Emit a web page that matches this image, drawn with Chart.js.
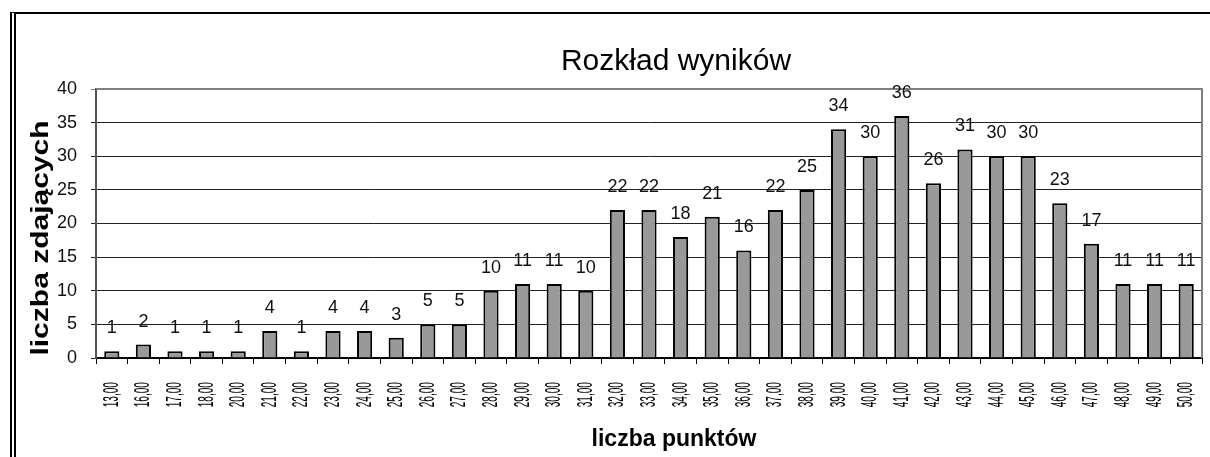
<!DOCTYPE html>
<html>
<head>
<meta charset="utf-8">
<script src="https://cdn.jsdelivr.net/npm/chart.js@4.4.0/dist/chart.umd.min.js"></script>
<style>
html, body { margin: 0; padding: 0; background: #fff; }
#wrap { position: relative; width: 1210px; height: 457px; overflow: hidden; }
#frame { position: absolute; left: 10px; top: 12px; width: 1300px; height: 600px;
         border-top: 2px solid #000; border-left: 6px double #000; pointer-events: none; }
</style>
</head>
<body>
<div id="wrap">
  <canvas id="chart" width="1210" height="457"></canvas>
  <div id="frame"></div>
</div>
<script>
var categories = ['13,00', '16,00', '17,00', '18,00', '20,00', '21,00', '22,00', '23,00', '24,00',
    '25,00', '26,00', '27,00', '28,00', '29,00', '30,00', '31,00', '32,00', '33,00', '34,00',
    '35,00', '36,00', '37,00', '38,00', '39,00', '40,00', '41,00', '42,00', '43,00', '44,00',
    '45,00', '46,00', '47,00', '48,00', '49,00', '50,00'];
var counts = [1, 2, 1, 1, 1, 4, 1, 4, 4, 3, 5, 5, 10, 11, 11, 10, 22, 22, 18, 21, 16, 22, 25,
    34, 30, 36, 26, 31, 30, 30, 23, 17, 11, 11, 11];
var yMin = 0, yMax = 40, yStep = 5;

var chartTitle = 'Rozkład wyników';
var xTitle = 'liczba punktów';
var yTitle = 'liczba zdających';

var arial = "'Liberation Sans', Arial, sans-serif";

var extras = {
    id: 'extras',
    beforeDatasetsDraw: function(chart) {
        // grey frame of the plot area (top + right)
        var a = chart.chartArea, ctx = chart.ctx;
        ctx.save();
        ctx.strokeStyle = '#808080';
        ctx.lineWidth = 2;
        ctx.beginPath();
        ctx.moveTo(a.left, a.top);
        ctx.lineTo(a.right, a.top);
        ctx.lineTo(a.right, a.bottom);
        ctx.stroke();
        ctx.restore();
    },
    afterDatasetsDraw: function(chart) {
        // value labels above the bars
        var ctx = chart.ctx;
        var meta = chart.getDatasetMeta(0);
        ctx.save();
        ctx.font = '18px ' + arial;
        ctx.fillStyle = '#111';
        ctx.textAlign = 'center';
        ctx.textBaseline = 'bottom';
        meta.data.forEach(function(bar, i) {
            ctx.fillText(String(counts[i]), bar.x, bar.y - 14);
        });
        ctx.restore();
    },
    afterDraw: function(chart) {
        var ctx = chart.ctx;
        var xs = chart.scales.x;

        // narrow, rotated category labels (like the original export)
        ctx.save();
        ctx.fillStyle = '#000';
        ctx.font = '22px ' + arial;
        ctx.textAlign = 'right';
        ctx.textBaseline = 'middle';
        categories.forEach(function(lab, i) {
            ctx.save();
            ctx.translate(xs.getPixelForTick(i), 382);
            ctx.rotate(-Math.PI / 2);
            ctx.scale(0.46, 1);
            ctx.fillText(lab, 0, 0);
            ctx.restore();
        });
        ctx.restore();

        ctx.save();
        ctx.fillStyle = '#000';
        ctx.textAlign = 'center';
        ctx.textBaseline = 'middle';
        ctx.font = '30px ' + arial;
        ctx.fillText(chartTitle, 676, 62);
        ctx.font = 'bold 23px ' + arial;
        ctx.fillText(xTitle, 674, 440);
        ctx.translate(41, 238);
        ctx.rotate(-Math.PI / 2);
        ctx.scale(1.25, 1);
        ctx.font = 'bold 24px ' + arial;
        ctx.fillText(yTitle, 0, 0);
        ctx.restore();
    }
};

new Chart(document.getElementById('chart'), {
    type: 'bar',
    data: {
        labels: categories,
        datasets: [{
            data: counts,
            backgroundColor: '#999999',
            borderColor: '#000',
            borderWidth: 2,
            barPercentage: 0.48,
            categoryPercentage: 1.0
        }]
    },
    options: {
        responsive: false,
        animation: false,
        devicePixelRatio: 1,
        layout: { padding: { left: 0, right: 8, top: 89, bottom: 0 } },
        plugins: {
            legend: { display: false },
            title: { display: false },
            tooltip: { enabled: false }
        },
        scales: {
            x: {
                afterFit: function(scale) { scale.height = 99; },
                grid: { display: true, drawOnChartArea: false, offset: true, color: '#000', tickLength: 6 },
                border: { color: '#000', width: 2 },
                ticks: { display: false, autoSkip: false }
            },
            y: {
                min: yMin, max: yMax,
                afterFit: function(scale) { scale.width = 96; },
                grid: {
                    color: function(c) { return c.tick && c.tick.value === yMax ? '#808080' : '#222'; },
                    lineWidth: 1, tickLength: 5
                },
                border: { color: '#555', width: 2 },
                ticks: {
                    stepSize: yStep, padding: 14, color: '#111',
                    font: { family: arial, size: 18 }
                }
            }
        }
    },
    plugins: [extras]
});
</script>
</body>
</html>
